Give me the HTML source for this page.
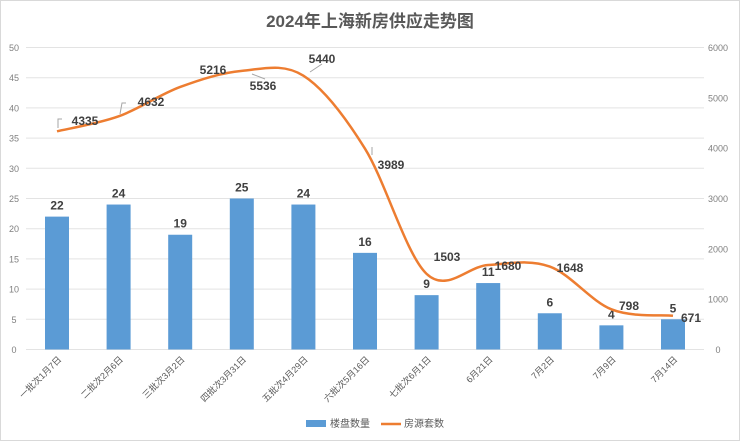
<!DOCTYPE html>
<html><head><meta charset="utf-8"><style>
body{margin:0;background:#fff;}
svg text{font-family:"Liberation Sans","Noto Sans CJK SC",sans-serif;}
</style></head><body>
<svg id="s" width="740" height="441" xmlns="http://www.w3.org/2000/svg">
<rect x="0.5" y="0.5" width="739" height="440" fill="#fff" stroke="#d9d9d9"/>
<text x="370" y="27" text-anchor="middle" font-size="17" font-weight="bold" fill="#595959">2024年上海新房供应走势图</text>
<g id="g"></g>
</svg>
<script>
const g=document.getElementById('g');
const NS='http://www.w3.org/2000/svg';
function el(t,a,txt){const e=document.createElementNS(NS,t);for(const k in a)e.setAttribute(k,a[k]);if(txt!==undefined)e.textContent=txt;g.appendChild(e);return e;}
const y0=349.5,k=6.04;
for(let v=0;v<=50;v+=5){const y=y0-v*k;
el('line',{x1:26,x2:704,y1:y,y2:y,stroke:'#e3e3e3','stroke-width':1});
el('text',{x:14,y:y+3.5,'font-size':9,fill:'#7f7f7f','text-anchor':'middle'},v);}
for(let r=0;r<=6000;r+=1000){const y=y0-r*k/120;
el('text',{x:718,y:y+3.5,'font-size':9,fill:'#7f7f7f','text-anchor':'middle'},r);}
const bars=[22,24,19,25,24,16,9,11,6,4,5];
const lv=[4335,4632,5216,5536,5440,3989,1503,1680,1648,798,671];
const cats=['一批次1月7日','二批次2月6日','三批次3月2日','四批次3月31日','五批次4月29日','六批次5月16日','七批次6月1日','6月21日','7月2日','7月9日','7月14日'];
const xs=bars.map((b,i)=>57+61.6*i);
bars.forEach((b,i)=>{const h=b*k;
el('rect',{x:xs[i]-12,y:y0-h,width:24,height:h,fill:'#5b9bd5'});
el('text',{x:xs[i],y:y0-h-7,'font-size':12,'font-weight':'bold','text-anchor':'middle',fill:'#404040'},b);
el('text',{transform:`translate(${xs[i]+5},${360}) rotate(-45)`,'text-anchor':'end','font-size':9,fill:'#595959'},cats[i]);});
const pts=lv.map((v,i)=>[xs[i],y0-v*k/120]);
let d=`M${pts[0][0]},${pts[0][1]}`;
for(let i=0;i<pts.length-1;i++){const p0=pts[Math.max(0,i-1)],p1=pts[i],p2=pts[i+1],p3=pts[Math.min(pts.length-1,i+2)];
const t=1/6;d+=` C${p1[0]+(p2[0]-p0[0])*t},${p1[1]+(p2[1]-p0[1])*t} ${p2[0]-(p3[0]-p1[0])*t},${p2[1]-(p3[1]-p1[1])*t} ${p2[0]},${p2[1]}`;}
el('path',{d:d,fill:'none',stroke:'#ed7d31','stroke-width':2.5});
// leader lines
[['M58,128 L58,119 L62,119'],['M120,114 L122,103 L126,103'],['M252,74 L265,79'],['M310,72 L322,64'],['M372,147 L372,155']].forEach(p=>el('path',{d:p[0],fill:'none',stroke:'#a6a6a6','stroke-width':1}));
const lp=[[85,125],[151,106],[213,74],[263,90],[322,63],[391,169],[447,261],[508,270],[570,272],[629,310],[691,322]];
lp.forEach((p,i)=>el('text',{x:p[0],y:p[1],'font-size':12,'font-weight':'bold','text-anchor':'middle',fill:'#404040'},lv[i]));
el('rect',{x:306,y:420,width:20,height:7,fill:'#5b9bd5'});
el('text',{x:330,y:427,'font-size':10,fill:'#595959'},'楼盘数量');
el('line',{x1:381,x2:401,y1:424,y2:424,stroke:'#ed7d31','stroke-width':2.5});
el('text',{x:404,y:427,'font-size':10,fill:'#595959'},'房源套数');
</script>
</body></html>
